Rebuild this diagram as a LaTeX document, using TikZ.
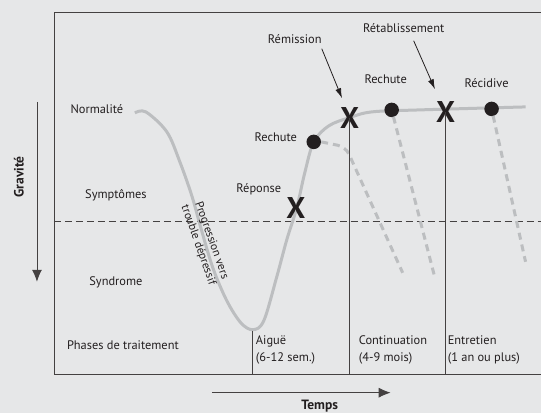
\documentclass[tikz,border=0pt]{standalone}
\usepackage{fontspec}
\setmainfont{PT Sans}
\usetikzlibrary{arrows.meta}

\definecolor{fond}{HTML}{E6E7E8}
\definecolor{gris}{HTML}{BCBEC0}
\definecolor{encre}{HTML}{231F20}

\begin{document}
\begin{tikzpicture}[x=1pt, y=-1pt, font=\fontsize{12.4}{17}\selectfont, text=encre,
        every node/.style={inner sep=1pt},
        trait/.style={line width=0.9pt, draw=encre!85},
        fleche/.style={line width=0.8pt, draw=encre, -{Latex[length=10pt,width=6pt]}},
        axe/.style={line width=0.9pt, draw=encre!85, -{Latex[length=12pt,width=10pt]}},
        titre/.style={font=\fontsize{13.5}{15}\selectfont\bfseries},
        croix/.style={font=\fontsize{30}{30}\selectfont\bfseries, inner sep=0pt},
        point/.style={circle, fill=encre, minimum size=14.5pt, inner sep=0pt},
        courbe/.style={line width=3pt, draw=gris},
        rechute/.style={courbe, dash pattern=on 7pt off 5pt}]
  \fill[fond] (0,0) rectangle (541,413);

  % cadre et seuil
  \draw[trait] (541,12) -- (54,12) -- (54,375) -- (541,375);
  \draw[trait, dash pattern=on 7pt off 4pt] (54,222) -- (541,222);
  \coordinate (bas) at (0,375);

  % axes
  \coordinate (gHaut) at (37,102);
  \coordinate (gBas) at (37,282);
  \coordinate (tGauche) at (212,393);
  \coordinate (tDroite) at (391,393);
  \draw[axe] (gHaut) -- (gBas);
  \draw[axe] (tGauche) -- (tDroite);
  \node[titre, rotate=90] (gravite) at (19,177) {Gravité};
  \node[titre] (temps) at (320,406) {Temps};

  % niveaux
  \node (normal) at (97,109) {Normalité};
  \node (sympt) at (116,195) {Symptômes};
  \node (syndr) at (116,283) {Syndrome};
  \node (phases) at (123,345) {Phases de traitement};

  % evolution
  \draw[courbe] plot[smooth, tension=0.55] coordinates {(135,113) (146,112) (167,132)
    (180,162) (192,196) (201,228) (213,268) (227,301) (241,323) (253,330) (264,321)
    (277,277) (287,240) (297,208) (305,173) (314,142) (329,126) (349,118) (372,112)
    (420,110) (526,107)};
  \coordinate (creux) at (253,331);
  \node[rotate=-70.5, align=center, font=\fontsize{11.6}{14}\selectfont] (progr) at (205,243)
    {Progression vers\\trouble dépressif};

  % rechutes
  \node[point] (dotA) at (314,142) {};
  \node[point] (dotB) at (392,110) {};
  \node[point] (dotC) at (492,109) {};
  \coordinate (finA) at (403,273);
  \coordinate (finB) at (435,277);
  \coordinate (finC) at (526,262);
  \draw[rechute, rounded corners=8pt] (dotA.east) -- (346,147) -- (finA);
  \draw[rechute, shorten <=7pt] (dotB.center) -- (finB);
  \draw[rechute, shorten <=7pt] (dotC.center) -- (finC);

  % jalons
  \node[croix] (xrep) at (296,208) {X};
  \node[croix] (xrem) at (350,118) {X};
  \node[croix] (xret) at (446,112) {X};

  % phases
  \draw[trait] (creux) -- (creux |- bas);
  \draw[trait] (xrem.center) -- (xrem.center |- bas);
  \draw[trait] (xret.center) -- (xret.center |- bas);
  \node[anchor=north west, align=left] (aigue) at (255,335) {Aiguë\\(6-12 sem.)};
  \node[anchor=north west, align=left] (contin) at (358,335) {Continuation\\(4-9 mois)};
  \node[anchor=north west, align=left] (entret) at (447,335) {Entretien\\(1 an ou plus)};

  % etiquettes
  \node (repon) at (259,189) {Réponse};
  \node (rechA) at (276,137) {Rechute};
  \node (remlab) at (295,39) {Rémission};
  \node (rechB) at (386,79) {Rechute};
  \node (retlab) at (404,28) {Rétablissement};
  \node (recid) at (487,83) {Récidive};
  \draw[fleche] (remlab.south east) ++(-1,4) -- ([xshift=2pt,yshift=9pt]xrem.north west);
  \draw[fleche] (retlab.south) ++(10,7) -- ([xshift=-1pt,yshift=12pt]xret.north west);
\end{tikzpicture}
\end{document}
